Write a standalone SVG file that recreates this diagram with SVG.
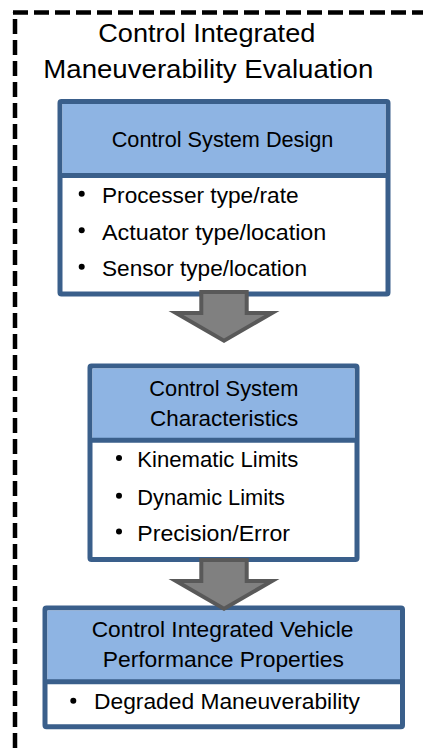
<svg xmlns="http://www.w3.org/2000/svg" xmlns:xlink="http://www.w3.org/1999/xlink" width="423" height="754" viewBox="0 0 423 754">
  <style>
    .frame { fill: none; stroke: #000; stroke-width: 4.5; stroke-dasharray: 15 6; }
    .box { fill: #ffffff; stroke: #3a5f8b; stroke-width: 5; }
    .head { fill: #8eb4e3; }
    .rule { stroke: #3a5f8b; stroke-width: 5; }
    .title { font-family: "Liberation Sans", Arial, sans-serif; font-size: 26px; fill: #000; }
    .label { font-family: "Liberation Sans", Arial, sans-serif; font-size: 22px; fill: #000; }
    .dot { fill: #000; }
    .arrow-out { fill: #595959; }
    .arrow-in { fill: #808080; }
  </style>
  <defs>
    <g id="blockArrow">
      <polygon class="arrow-out" points="199.3,290 248.7,290 248.7,311 279.5,311 224,343 168.5,311 199.3,311"/>
      <polygon class="arrow-in" points="203.3,294 244.7,294 244.7,315 264.55,315 224,338.4 183.45,315 203.3,315"/>
    </g>
  </defs>

  <rect width="423" height="754" fill="#ffffff"/>

  <!-- dashed outer frame, open to the right and bottom -->
  <path class="frame" d="M13,12.5 H440"/>
  <path class="frame" d="M15,12.5 V770" stroke-dashoffset="14.5"/>

  <g id="title">
    <text class="title" x="98.3" y="42" textLength="217" lengthAdjust="spacingAndGlyphs">Control Integrated</text>
    <text class="title" x="43.3" y="77.5" textLength="330" lengthAdjust="spacingAndGlyphs">Maneuverability Evaluation</text>
  </g>

  <g id="control-system-design">
    <rect class="box" x="60" y="101.5" width="328" height="192.5" rx="1.5"/>
    <rect class="head" x="62.5" y="104" width="323" height="71.5"/>
    <line class="rule" x1="60" y1="175.5" x2="388" y2="175.5"/>
    <text class="label" x="111.7" y="146.5" textLength="221.7" lengthAdjust="spacingAndGlyphs">Control System Design</text>
    <circle class="dot" cx="81.7" cy="193.7" r="3"/>
    <text class="label" x="102" y="203" textLength="196.6" lengthAdjust="spacingAndGlyphs">Processer type/rate</text>
    <circle class="dot" cx="81.7" cy="230.2" r="3"/>
    <text class="label" x="102" y="239.5" textLength="224.3" lengthAdjust="spacingAndGlyphs">Actuator type/location</text>
    <circle class="dot" cx="81.7" cy="266.7" r="3"/>
    <text class="label" x="102" y="276" textLength="205" lengthAdjust="spacingAndGlyphs">Sensor type/location</text>
  </g>

  <g id="control-system-characteristics">
    <rect class="box" x="90" y="366" width="267" height="193.5" rx="1.5"/>
    <rect class="head" x="92.5" y="368.5" width="262" height="71.8"/>
    <line class="rule" x1="90" y1="440.3" x2="357" y2="440.3"/>
    <text class="label" x="149.3" y="395.7" textLength="149" lengthAdjust="spacingAndGlyphs">Control System</text>
    <text class="label" x="150" y="426" textLength="148.3" lengthAdjust="spacingAndGlyphs">Characteristics</text>
    <circle class="dot" cx="119" cy="458" r="3"/>
    <text class="label" x="137.3" y="467.3" textLength="161" lengthAdjust="spacingAndGlyphs">Kinematic Limits</text>
    <circle class="dot" cx="119" cy="495.7" r="3"/>
    <text class="label" x="137.3" y="505" textLength="147.7" lengthAdjust="spacingAndGlyphs">Dynamic Limits</text>
    <circle class="dot" cx="119" cy="531.4" r="3"/>
    <text class="label" x="137.3" y="540.7" textLength="152.7" lengthAdjust="spacingAndGlyphs">Precision/Error</text>
  </g>

  <g id="vehicle-performance-properties">
    <rect class="box" x="45" y="608" width="357.5" height="118.8" rx="1.5"/>
    <rect class="head" x="47.5" y="610.5" width="352.5" height="71.2"/>
    <line class="rule" x1="45" y1="681.7" x2="402.5" y2="681.7"/>
    <text class="label" x="91.7" y="637.3" textLength="261.7" lengthAdjust="spacingAndGlyphs">Control Integrated Vehicle</text>
    <text class="label" x="102.7" y="667.3" textLength="241.3" lengthAdjust="spacingAndGlyphs">Performance Properties</text>
    <circle class="dot" cx="73.3" cy="700.7" r="3"/>
    <text class="label" x="94" y="709" textLength="266" lengthAdjust="spacingAndGlyphs">Degraded Maneuverability</text>
  </g>

  <g id="connectors">
    <use xlink:href="#blockArrow"/>
    <use xlink:href="#blockArrow" transform="translate(0,268)"/>
  </g>
</svg>
